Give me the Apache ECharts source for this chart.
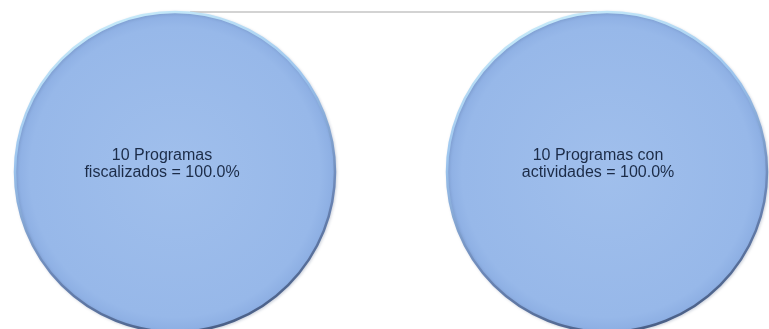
<!DOCTYPE html>
<html>
<head>
<meta charset="utf-8">
<script src="https://cdn.jsdelivr.net/npm/echarts@6/dist/echarts.min.js"></script>
<style>
  html, body { margin: 0; padding: 0; background: #fff; }
  #chart { width: 769px; height: 329px; }
</style>
</head>
<body>
<div id="chart"></div>
<script>
// one slice per pie, both 100%
var pieNames = ['fiscalizados', 'actividades'];
var pieValues = [10, 10];
var pieLabels = [
  '10 Programas\nfiscalizados = 100.0%',
  '10 Programas con\nactividades = 100.0%'
];

var centers = [[175, 172], [607, 172]];
var labelOffsets = [[-13, -8], [-9, -8]];

var fill = new echarts.graphic.RadialGradient(0.5, 0.5, 0.5, [
  { offset: 0, color: '#a0bfec' },
  { offset: 0.9, color: '#97b8e9' },
  { offset: 1, color: '#8badE2' }
]);
var edge = new echarts.graphic.LinearGradient(0.3, 0, 0.6, 1, [
  { offset: 0, color: '#c8ecfa' },
  { offset: 0.35, color: '#9cc4ee' },
  { offset: 0.7, color: '#6b86b6' },
  { offset: 1, color: '#4a5f86' }
]);

var series = pieValues.map(function (v, i) {
  return {
    type: 'pie',
    center: centers[i],
    radius: [0, 160],
    silent: true,
    startAngle: 90,
    itemStyle: {
      color: fill,
      borderColor: edge,
      borderWidth: 2.5,
      shadowColor: 'rgba(60,80,120,0.2)',
      shadowBlur: 3,
      shadowOffsetX: 1,
      shadowOffsetY: 1
    },
    label: {
      show: true,
      position: 'center',
      offset: labelOffsets[i],
      formatter: pieLabels[i],
      fontFamily: 'Liberation Sans, Arial, sans-serif',
      fontSize: 16,
      lineHeight: 17,
      color: '#1c2c48',
      align: 'center'
    },
    labelLine: { show: false },
    data: [{ name: pieNames[i], value: v }]
  };
});

var chart = echarts.init(document.getElementById('chart'), null, { renderer: 'canvas' });
chart.setOption({
  backgroundColor: '#ffffff',
  animation: false,
  graphic: [{
    type: 'line',
    z: -1,
    shape: { x1: 190, y1: 12, x2: 597, y2: 12 },
    style: { stroke: '#a8a8a8', lineWidth: 1.2 }
  }],
  series: series
});
</script>
</body>
</html>
